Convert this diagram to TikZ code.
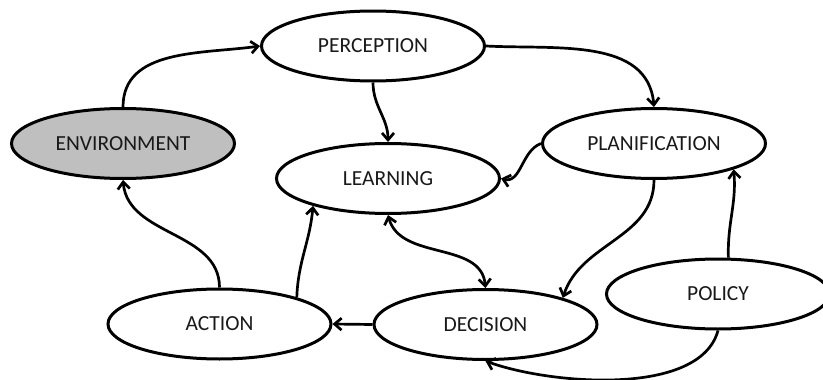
\documentclass[tikz,border=0pt]{standalone}
\usepackage{fontspec}
\setmainfont{Carlito}
\usetikzlibrary{shapes.geometric,arrows.meta}
\tikzset{
  state/.style={draw,ellipse,line width=3pt,minimum width=223pt,minimum height=70pt,
    inner sep=0pt,fill=white,font=\fontsize{21.5}{24}\selectfont,text=black!90},
  link/.style={line width=2.7pt,-{Straight Barb[length=7pt,width=12pt]}},
}
\begin{document}
\begin{tikzpicture}[x=1pt,y=-1pt]
\useasboundingbox (0,0) rectangle (823,380);
% the seven states
\node[state] (perc) at (373,46) {PERCEPTION};
\node[state,fill=gray!50] (env) at (123,143.5) {ENVIRONMENT};
\node[state] (learn) at (388,178.5) {LEARNING};
\node[state] (plan) at (654,143.5) {PLANIFICATION};
\node[state] (act) at (219.5,324) {ACTION};
\node[state] (dec) at (485.5,324.5) {DECISION};
\node[state] (pol) at (718,294) {POLICY};

% outer loop
\draw[link] (env.north) to[out=90,in=188] (perc.west);
\draw[link] (perc.east) to[out=-3,in=95] (plan.north);
\draw[link] (plan.south) to[out=-90,in=72] (dec.19);
\draw[link] (dec.west) -- (act.east);
\draw[link] (act.north) to[out=90,in=-85] (env.south);

% links to learning
\draw[link] (perc.south) to[out=-90,in=90] (learn.north);
\draw[link] (plan.west) to[out=200,in=-15] (learn.east);
\draw[link] (act.19) to[out=88,in=-95] (learn.200);
\draw[link,{Straight Barb[length=7pt,width=12pt]}-{Straight Barb[length=7pt,width=12pt]}]
  (learn.south) to[out=-75,in=95] (dec.north);

% policy
\draw[link] (pol.74) to[out=92,in=-85] (plan.-18);
\draw[link] (pol.south) to[out=-105,in=-20,looseness=0.75] (dec.south);
\end{tikzpicture}
\end{document}
